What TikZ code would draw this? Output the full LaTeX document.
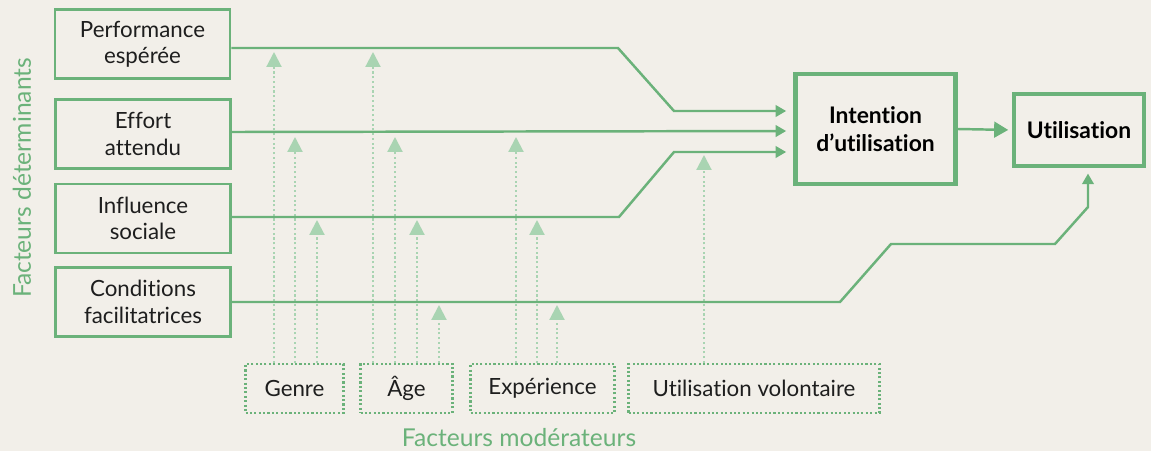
\documentclass[tikz,border=0pt]{standalone}
\usepackage{fontspec}
\setmainfont{Lato}[Ligatures={NoCommon}]
\usepackage{tikz}
\usetikzlibrary{arrows.meta}
\pgfdeclarelayer{bg}
\pgfsetlayers{bg,main}
\definecolor{vert}{HTML}{6BB27A}
\definecolor{vertclair}{HTML}{A9D4B2}
\definecolor{fond}{HTML}{F2EFE9}
\definecolor{encre}{HTML}{1E1E1E}
\tikzset{
        facteur/.style={draw=vert, line width=1.7pt, minimum width=3.5cm, minimum height=1.38cm,
                align=center, text=encre, font=\fontsize{12.7}{15}\selectfont},
        cible/.style={draw=vert, line width=2.6pt, align=center, text=black,
                font=\bfseries\fontsize{13}{16}\selectfont},
        moderateur/.style={draw=vert, line width=1.2pt, dash pattern=on 1.2pt off 1.3pt,
                minimum height=0.98cm, text=encre, font=\fontsize{12.7}{15}\selectfont},
        titre/.style={text=vert, font=\fontsize{14}{16}\selectfont},
        lien/.style={vert, line width=1.4pt, -{Triangle[length=6pt,width=6.5pt]}},
        modere/.style={vertclair, line width=1.2pt, dash pattern=on 1.2pt off 1.5pt,
                -{Triangle[length=8.5pt,width=8.5pt]}},
}

\begin{document}
\begin{tikzpicture}
        \useasboundingbox (0cm, 0cm) rectangle (23.02cm, 9.02cm);
        % facteurs determinants
        \node (perf) [facteur] at (2.85cm, 8.14cm) {Performance\\espérée};
        \node (effort) [facteur] at (2.86cm, 6.34cm) {Effort\\attendu};
        \node (infl) [facteur] at (2.86cm, 4.65cm) {Influence\\sociale};
        \node (cond) [facteur] at (2.86cm, 2.98cm) {Conditions\\facilitatrices};
        % intention et utilisation
        \node (intent) [cible, minimum width=3.2cm, minimum height=2.2cm] at (17.51cm, 6.44cm) {Intention\\d’utilisation};
        \node (util) [cible, minimum width=2.6cm, minimum height=1.44cm] at (21.58cm, 6.42cm) {Utilisation};
        % facteurs moderateurs
        \node (genre) [moderateur, minimum width=1.96cm] at (5.89cm, 1.25cm) {Genre};
        \node (age) [moderateur, minimum width=1.84cm] at (8.13cm, 1.25cm) {Âge};
        \node (exp) [moderateur, minimum width=2.88cm] at (10.85cm, 1.25cm) {Expérience};
        \node (vol) [moderateur, minimum width=5.02cm] at (15.08cm, 1.25cm) {Utilisation volontaire};
        \node (det) [titre, rotate=90] at (0.44cm, 5.46cm) {Facteurs déterminants};
        \node (mod) [titre] at (10.38cm, 0.26cm) {Facteurs modérateurs};

        \draw [lien, shorten >=4pt] (perf.east |- 0,8.06) -- (12.36,8.06) -- (13.48,6.80) -- (intent.west |- 0,6.80);
        \draw [lien, shorten >=4pt] (effort.east |- 0,6.38) -- (intent.west |- 0,6.40);
        \draw [lien, shorten >=4pt] (infl.east |- 0,4.68) -- (12.38,4.68) -- (13.48,5.98) -- (intent.west |- 0,5.98);
        \draw [lien, shorten >=3pt] (cond.east |- 0,2.98) -- (16.80,2.98) -- (17.82,4.14) -- (21.10,4.14) -- (21.76,4.88) -- (21.76,0 |- util.south);
        \draw [vert, line width=1.4pt, -{Triangle[length=8pt,width=9pt]}, shorten >=2pt] (intent.east) -- (util.west);

        \begin{pgfonlayer}{bg}
                \fill [fond] (0cm, 0cm) rectangle (23.02cm, 9.02cm);
                \draw [modere] (5.48,0 |- genre.north) -- (5.48,7.98);
                \draw [modere] (5.90,0 |- genre.north) -- (5.90,6.28);
                \draw [modere] (6.34,0 |- genre.north) -- (6.34,4.62);
                \draw [modere] (7.46,0 |- age.north) -- (7.46,7.98);
                \draw [modere] (7.90,0 |- age.north) -- (7.90,6.28);
                \draw [modere] (8.34,0 |- age.north) -- (8.34,4.62);
                \draw [modere] (8.78,0 |- age.north) -- (8.78,2.92);
                \draw [modere] (10.32,0 |- exp.north) -- (10.32,6.28);
                \draw [modere] (10.74,0 |- exp.north) -- (10.74,4.62);
                \draw [modere] (11.14,0 |- exp.north) -- (11.14,2.92);
                \draw [modere] (14.08,0 |- vol.north) -- (14.08,5.92);
        \end{pgfonlayer}
\end{tikzpicture}
\end{document}
